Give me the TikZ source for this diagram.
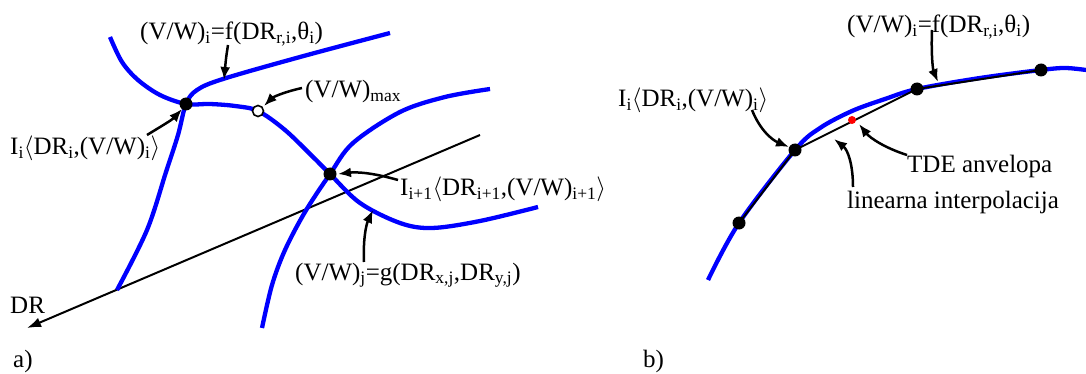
\documentclass[tikz,border=0pt]{standalone}
\usepackage{fontspec}
\setmainfont{Liberation Serif}
\usetikzlibrary{arrows.meta}
\newcommand{\sbx}[1]{\textsubscript{#1}}
\begin{document}
\begin{tikzpicture}[x=1pt,y=-1pt,
  curve/.style={draw=blue, line width=4.3pt},
  axisline/.style={draw=black, line width=2pt},
  chord/.style={draw=black, line width=2pt},
  dotpt/.style={circle, fill=black, inner sep=0pt, minimum size=13pt},
  reddot/.style={circle, fill=red, inner sep=0pt, minimum size=8pt},
  maxpt/.style={circle, draw=black, line width=1.6pt, fill=white, inner sep=0pt, minimum size=11pt},
  lbl/.style={anchor=base west, inner sep=0pt, font=\fontsize{25}{30}\selectfont},
  ptr/.style={-{Latex[length=13pt,width=10pt]}, line width=2.5pt},
]
\useasboundingbox (0,0) rectangle (1086,374);

% ---------- panel a ----------
\coordinate (Ia) at (186,104);
\coordinate (Ib) at (330,174);
\coordinate (mx) at (258,111);
\coordinate (ax1) at (480,135);
\coordinate (ax0) at (27,328);

\draw[axisline,-{Latex[length=14pt,width=10pt]}] (ax1) -- (ax0);

\draw[curve] plot[smooth,tension=0.55] coordinates {(110,37) (122,62) (138,80) (160,95) (Ia) (210,104) (235,106) (mx) (285,130) (313,157) (Ib) (360,203) (400,223) (432,228) (480,221) (538,207)};
\draw[curve] plot[smooth,tension=0.55] coordinates {(117,290) (147,230) (166,172) (178,135) (Ia) (197,90) (223,79) (300,57) (390,33)};
\draw[curve] plot[smooth,tension=0.55] coordinates {(262,328) (272,285) (285,250) (305,212) (Ib) (353,143) (400,112) (445,97) (490,89)};

\node[dotpt] (dIa) at (Ia) {};
\node[dotpt] (dIb) at (Ib) {};
\node[maxpt] (dmx) at (mx) {};

\node[lbl] (fa) at (140,40) {(V/W)\sbx{i}=f(DR\sbx{r,i},θ\sbx{i})};
\node[lbl] (mxa) at (305,98) {(V/W)\sbx{max}};
\node[lbl] (Iia) at (10,155) {I\sbx{i}$\langle$DR\sbx{i},(V/W)\sbx{i}$\rangle$};
\node[lbl] (Iba) at (400,196) {I\sbx{i+1}$\langle$DR\sbx{i+1},(V/W)\sbx{i+1}$\rangle$};
\node[lbl] (ga) at (295,280) {(V/W)\sbx{j}=g(DR\sbx{x,j},DR\sbx{y,j})};
\node[lbl] (DR) at (10,313) {DR};
\node[lbl] (pa) at (13,367) {a)};

\coordinate (sf) at (228,45);
\coordinate (ef) at (224,80);
\coordinate (smx) at (302,88);
\coordinate (emx) at (264,106);
\coordinate (sIa) at (147,135);
\coordinate (eIa) at (182,109);
\coordinate (sIb) at (398,180);
\coordinate (eIb) at (338,174);
\coordinate (sg) at (364,262);
\coordinate (eg) at (373,210);

\draw[ptr] (sf) .. controls (226,58) .. (ef);
\draw[ptr] (smx) .. controls (280,93) and (272,98) .. (emx);
\draw[ptr] (sIa) .. controls (160,127) and (172,120) .. (eIa);
\draw[ptr] (sIb) .. controls (370,172) and (355,172) .. (eIb);
\draw[ptr] (sg) .. controls (363,240) and (366,225) .. (eg);

% ---------- panel b ----------
\coordinate (A) at (739,223);
\coordinate (B) at (795,150);
\coordinate (C) at (917,89);
\coordinate (D) at (1041,70);
\coordinate (R) at (852,120);

\draw[curve] plot[smooth,tension=0.55] coordinates {(708,280) (A) (B) (820,128) (852,111) (885,99) (C) (980,78) (D) (1065,68) (1086,70)};
\draw[chord] (A) -- (B) -- (C) -- (D);

\node[dotpt] (dA) at (A) {};
\node[dotpt] (dB) at (B) {};
\node[dotpt] (dC) at (C) {};
\node[dotpt] (dD) at (D) {};
\node[reddot] (dR) at (R) {};

\node[lbl] (Iib) at (618,107) {I\sbx{i}$\langle$DR\sbx{i},(V/W)\sbx{i}$\rangle$};
\node[lbl] (fb) at (847,33) {(V/W)\sbx{i}=f(DR\sbx{r,i},θ\sbx{i})};
\node[lbl] (tde) at (907,172) {TDE anvelopa};
\node[lbl] (lin) at (847,208) {linearna interpolacija};
\node[lbl] (pb) at (643,367) {b)};

\coordinate (sIib) at (752,110);
\coordinate (eIib) at (789,147);
\coordinate (sfb) at (932,30);
\coordinate (efb) at (938,82);
\coordinate (stde) at (907,155);
\coordinate (etde) at (859,124);
\coordinate (slin) at (853,187);
\coordinate (elin) at (834,139);

\draw[ptr] (sIib) .. controls (760,130) and (772,140) .. (eIib);
\draw[ptr] (sfb) .. controls (931,55) and (933,70) .. (efb);
\draw[ptr] (stde) .. controls (885,148) and (870,138) .. (etde);
\draw[ptr] (slin) .. controls (853,165) and (848,150) .. (elin);
\end{tikzpicture}
\end{document}
